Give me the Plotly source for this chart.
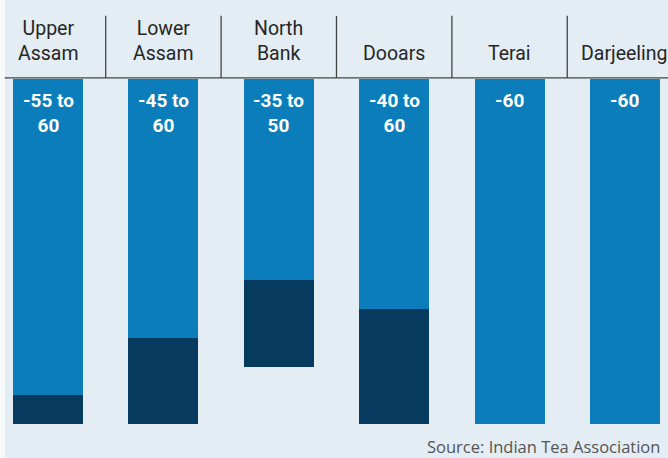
import plotly.graph_objects as go

regions = ["Upper Assam", "Lower Assam", "North Bank", "Dooars", "Terai", "Darjeeling"]
header_labels = ["Upper<br>Assam", "Lower<br>Assam", "North<br>Bank", "Dooars", "Terai", "Darjeeling"]
range_low = [55, 45, 35, 40, 60, 60]   # lower bound of decline (%)
range_high = [60, 60, 50, 60, 60, 60]  # upper bound of decline (%)
source_text = "Source: Indian Tea Association"

LIGHT = "#0b7dba"
DARK = "#063a5e"
BG = "#e3edf3"
HEAD_FONT = "Roboto, Liberation Sans, sans-serif"

x = list(range(len(regions)))
extra = [h - l for l, h in zip(range_low, range_high)]

fig = go.Figure()
fig.add_trace(go.Bar(x=x, y=range_low, marker=dict(color=LIGHT, line_width=0),
                     width=0.607, hoverinfo="skip"))
fig.add_trace(go.Bar(x=x, y=extra, marker=dict(color=DARK, line_width=0),
                     width=0.607, hoverinfo="skip"))

annotations = []
for i, (lab, lo, hi) in enumerate(zip(header_labels, range_low, range_high)):
    annotations.append(dict(x=i, y=1.036, xref="x", yref="paper", text=lab,
                            showarrow=False, xanchor="center", yanchor="bottom",
                            font=dict(family=HEAD_FONT, size=19.5, color="#262626")))
    txt = f"-{lo} to<br>{hi}" if lo != hi else f"-{hi}"
    annotations.append(dict(x=i, y=0, xref="x", yref="y", text=f"<b>{txt}</b>",
                            showarrow=False, xanchor="center", yanchor="top", yshift=-8,
                            font=dict(family=HEAD_FONT, size=19, color="white")))
annotations.append(dict(x=425 / 668, y=-0.065, xref="paper", yref="paper", text=source_text,
                        showarrow=False, xanchor="left", yanchor="middle",
                        font=dict(family="Open Sans, sans-serif", size=16.5, color="#555555")))

shapes = []
for i in range(len(regions) - 1):
    shapes.append(dict(type="line", xref="x", yref="paper", x0=i + 0.5, x1=i + 0.5,
                       y0=1.003, y1=1.183, line=dict(color="#444444", width=1.3)))
shapes.append(dict(type="line", xref="paper", yref="paper", x0=0.007, x1=1, y0=1.003, y1=1.003,
                   line=dict(color="#444444", width=1.3)))
shapes.append(dict(type="rect", xref="paper", yref="paper", x0=0, x1=5 / 668, y0=-0.1, y1=1.33,
                   fillcolor="#f7fafb", line_width=0, layer="below"))
shapes.append(dict(type="rect", xref="paper", yref="paper", x0=0, x1=1, y0=1.312, y1=1.33,
                   fillcolor="#eef5ee", line_width=0, layer="below"))

fig.update_layout(
    width=668, height=458,
    margin=dict(l=0, r=0, t=79, b=34),
    paper_bgcolor=BG, plot_bgcolor=BG,
    barmode="stack", bargap=0,
    showlegend=False,
    xaxis=dict(range=[-0.416, 5.373], visible=False, fixedrange=True),
    yaxis=dict(range=[60, 0], visible=False, fixedrange=True),
    annotations=annotations, shapes=shapes,
)

fig.write_html("out.html", config={"displayModeBar": False},
               post_script="document.body.style.margin='0';")
